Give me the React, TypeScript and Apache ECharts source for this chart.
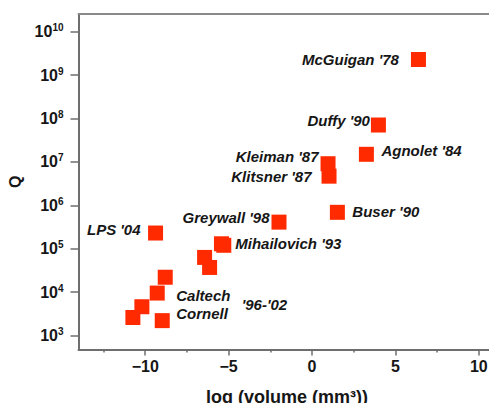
import React, { useEffect, useRef } from "react";
import * as echarts from "echarts";

// ---- data ----
const pointNames = [
  "McGuigan '78", "Duffy '90", "Agnolet '84", "Kleiman '87", "Klitsner '87",
  "Buser '90", "Greywall '98", "LPS '04", "", "Mihailovich '93",
  "", "", "", "Caltech", "", "", "Cornell",
];
const logVolume = [
  6.38, 3.98, 3.26, 0.96, 1.02,
  1.52, -1.98, -9.38, -5.43, -5.29,
  -6.44, -6.14, -8.80, -9.28, -10.20, -10.74, -8.98,
];
const qValues = [
  2.3e9, 7.1e7, 1.5e7, 9.1e6, 4.7e6,
  6.9e5, 4.1e5, 2.3e5, 1.3e5, 1.2e5,
  6.3e4, 3.7e4, 2.2e4, 9.5e3, 4.6e3, 2.6e3, 2.2e3,
];
const yTickExponents = [3, 4, 5, 6, 7, 8, 9, 10];
const xTickValues = [-10, -5, 0, 5, 10];
const xMinorTickValues = [-12.5, -7.5, -2.5, 2.5, 7.5];
const groupNote = "'96-'02";

// ---- label placement (styling only) ----
const labelPlacement: Array<[string, number, number]> = [
  ["left", 12, 0], ["left", 1, -5], ["right", 7.5, -4], ["left", 2, -7], ["left", 10, 0],
  ["right", 7.5, -1], ["left", 2, -5], ["left", 7.5, -4], ["right", 0, 0], ["right", 4, -2],
  ["right", 0, 0], ["right", 0, 0], ["right", 0, 0], ["right", 11.5, 2], ["right", 0, 0],
  ["right", 0, 0], ["right", 6.5, -7],
];

const FONT = "'Liberation Sans', Arial, sans-serif";
const AXIS_COLOR = "#6e6e6e";
const TEXT_COLOR = "#161616";

export default function App() {
  const ref = useRef<HTMLDivElement>(null);

  useEffect(() => {
    document.body.style.margin = "0";
    document.body.style.overflow = "hidden";
    if (!ref.current) return;
    const chart = echarts.init(ref.current, undefined, { renderer: "svg" });

    const data = logVolume.map((x, i) => {
      const [pos, dist, dy] = labelPlacement[i];
      return {
        value: [x, Math.log10(qValues[i])],
        name: pointNames[i],
        label: {
          show: pointNames[i] !== "",
          position: pos,
          distance: dist,
          offset: [0, dy],
        },
      };
    });

    chart.setOption({
      animation: false,
      backgroundColor: "#ffffff",
      grid: {
        left: 78.5,
        top: 14,
        width: 417,
        height: 335.5,
        show: false,
        containLabel: false,
        outerBoundsMode: "none",
      },
      xAxis: [
        {
          type: "value",
          min: -14,
          max: 11,
          position: "bottom",
          name: "log (volume (mm³))",
          nameLocation: "middle",
          nameGap: 38,
          nameTextStyle: { fontFamily: FONT, fontSize: 18, fontWeight: "bold", color: TEXT_COLOR },
          axisLine: { show: true, onZero: false, lineStyle: { color: AXIS_COLOR, width: 2 } },
          axisTick: { show: true, inside: false, length: 6, customValues: xTickValues, lineStyle: { color: AXIS_COLOR, width: 1.5 } },
          axisLabel: {
            show: true,
            customValues: xTickValues,
            margin: 9,
            fontFamily: FONT,
            fontSize: 16,
            fontWeight: "bold",
            color: TEXT_COLOR,
            formatter: (v: number) => String(v).replace("-", "\u2212"),
          },
          splitLine: { show: false },
        },
        {
          type: "value",
          min: -14,
          max: 11,
          position: "bottom",
          gridIndex: 0,
          axisLine: { show: false },
          axisTick: { show: true, inside: false, length: 3, customValues: xMinorTickValues, lineStyle: { color: AXIS_COLOR, width: 1.5 } },
          axisLabel: { show: false },
          splitLine: { show: false },
        },
        {
          type: "value",
          min: -14,
          max: 11,
          position: "top",
          gridIndex: 0,
          axisLine: { show: true, onZero: false, lineStyle: { color: "#8a8a8a", width: 2 } },
          axisTick: { show: false },
          axisLabel: { show: false },
          splitLine: { show: false },
        },
      ],
      yAxis: {
        type: "value",
        min: 2.677,
        max: 10.41,
        name: "Q",
        nameLocation: "middle",
        nameGap: 40,
        nameTextStyle: { fontFamily: FONT, fontSize: 16, fontWeight: "bold", color: TEXT_COLOR },
        axisLine: { show: true, onZero: false, lineStyle: { color: AXIS_COLOR, width: 2 } },
        axisTick: { show: true, inside: false, length: 8, customValues: yTickExponents, lineStyle: { color: AXIS_COLOR, width: 1.5 } },
        axisLabel: {
          show: true,
          customValues: yTickExponents,
          margin: 15,
          formatter: (v: number) => `{b|10}{s|${v}}`,
          rich: {
            b: { fontFamily: FONT, fontSize: 16, fontWeight: "bold", color: TEXT_COLOR, lineHeight: 18 },
            s: { fontFamily: FONT, fontSize: 10, fontWeight: "bold", color: TEXT_COLOR, lineHeight: 10, verticalAlign: "top" },
          },
        },
        splitLine: { show: false },
      },
      series: [
        {
          type: "scatter",
          xAxisIndex: 0,
          symbol: "rect",
          symbolSize: 15,
          itemStyle: { color: "#ff2a00", opacity: 1 },
          label: {
            formatter: "{b}",
            fontFamily: FONT,
            fontSize: 15,
            fontWeight: "bold",
            fontStyle: "italic",
            color: TEXT_COLOR,
          },
          data,
        },
      ],
      graphic: [
        {
          type: "text",
          left: 241.7,
          top: 297,
          style: {
            text: groupNote,
            fontFamily: FONT,
            fontSize: 15,
            fontWeight: "bold",
            fontStyle: "italic",
            fill: TEXT_COLOR,
          },
        },
      ],
    });

    return () => chart.dispose();
  }, []);

  return (
    <div style={{ width: 489, height: 403, overflow: "hidden", position: "relative" }}>
      <div ref={ref} style={{ width: 540, height: 403 }} />
    </div>
  );
}
